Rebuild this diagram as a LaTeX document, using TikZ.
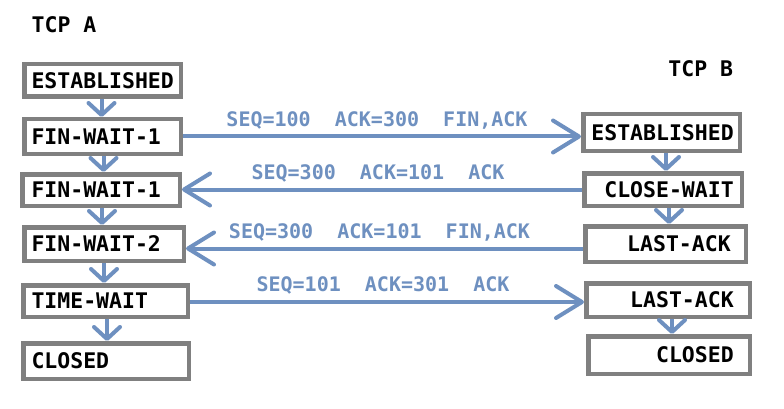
\documentclass[tikz,border=0pt]{standalone}
\usepackage{fontspec}
\newfontfamily\dvm{DejaVu Sans Mono}
\usetikzlibrary{arrows.meta}
\definecolor{boxgray}{RGB}{128,128,128}
\definecolor{arrblue}{RGB}{110,144,192}
\tikzset{
  stbox/.style={draw=boxgray, line width=4.5pt, inner ysep=0pt,
    font=\dvm\bfseries\fontsize{21.5}{26}\selectfont,
    text height=15.7pt, text depth=0pt},
  lbox/.style={stbox, align=left},
  rbox/.style={stbox, align=right},
  title/.style={font=\dvm\bfseries\fontsize{21.5}{26}\selectfont,
    text height=15.7pt, text depth=0pt, inner sep=0pt, anchor=west},
  msg/.style={line width=4pt, draw=arrblue,
    -{Straight Barb[length=26pt,width=32pt,round]}},
  vstep/.style={line width=4pt, draw=arrblue,
    -{Straight Barb[length=12pt,width=26pt,round]}},
  msglabel/.style={font=\dvm\bfseries\fontsize{20}{24}\selectfont,
    text=arrblue, text height=14.6pt, text depth=0pt, inner sep=0pt}
}
\begin{document}
\begin{tikzpicture}[x=1pt,y=-1pt]
\fill[white] (0,0) rectangle (784,409);
\useasboundingbox (0,0) rectangle (784,409);

\node[title] (ta) at (31.5,24.5) {TCP A};
\node[title] (tb) at (668.2,68.5) {TCP B};

% left column
\node[lbox, minimum height=32.5pt, inner xsep=7.25pt, text width=142pt] (eA) at (102.5,80.5) {ESTABLISHED};
\node[lbox, minimum height=34.5pt, inner xsep=7.25pt, text width=142pt] (f1) at (102.5,136.5) {FIN-WAIT-1};
\node[lbox, minimum height=31.5pt, inner xsep=9.25pt, text width=139pt] (f1b) at (101,190) {FIN-WAIT-1};
\node[lbox, minimum height=33.5pt, inner xsep=7.25pt, text width=145pt] (f2) at (104,244) {FIN-WAIT-2};
\node[lbox, minimum height=31.5pt, inner xsep=8.25pt, text width=148pt] (tw) at (105.5,301) {TIME-WAIT};
\node[lbox, minimum height=35.5pt, inner xsep=8.25pt, text width=149pt] (clA) at (106,361) {CLOSED};

% right column
\node[rbox, minimum height=36.5pt, inner xsep=6pt, text width=144.5pt] (eB) at (661.5,132.5) {ESTABLISHED};
\node[rbox, minimum height=32.5pt, inner xsep=8pt, text width=141.5pt] (cw) at (663,189.5) {CLOSE-WAIT};
\node[rbox, minimum height=35.5pt, inner xsep=15pt, text width=130.5pt] (la1) at (665.5,244) {LAST-ACK};
\node[rbox, minimum height=33.5pt, inner xsep=16pt, text width=131.5pt] (la2) at (668,300) {LAST-ACK};
\node[rbox, minimum height=37.5pt, inner xsep=16pt, text width=129.5pt] (clB) at (669,355) {CLOSED};

% vertical steps, left
\draw[vstep] ([xshift=-1pt]eA.south) -- ([xshift=-1pt]eA.south |- f1.north);
\draw[vstep] ([xshift=1pt]f1.south) -- ([xshift=1pt]f1.south |- f1b.north);
\draw[vstep] ([xshift=1pt]f1b.south) -- ([xshift=1pt]f1b.south |- f2.north);
\draw[vstep] (f2.south) -- (f2.south |- tw.north);
\draw[vstep] ([xshift=1.5pt]tw.south) -- ([xshift=1.5pt]tw.south |- clA.north);

% vertical steps, right
\draw[vstep] ([xshift=4.5pt]eB.south) -- ([xshift=4.5pt]eB.south |- cw.north);
\draw[vstep] ([xshift=6pt]cw.south) -- ([xshift=6pt]cw.south |- la1.north);
\draw[vstep] ([xshift=4pt]la2.south) -- ([xshift=4pt]la2.south |- clB.north);

% messages
\draw[msg] (f1.east) -- (f1.east -| eB.west)
  node[msglabel, midway, above=8.2pt, xshift=-5pt] (m1) {SEQ=100\ \ ACK=300\ \ FIN,ACK};
\draw[msg] (cw.west) -- (cw.west -| f1b.east)
  node[msglabel, midway, above=8.2pt, xshift=-4pt] (m2) {SEQ=300\ \ ACK=101\ \ ACK};
\draw[msg] ([yshift=-4.5pt]la1.west) -- ([yshift=-4.5pt]la1.west -| f2.east)
  node[msglabel, midway, above=8.2pt, xshift=-5pt] (m3) {SEQ=300\ \ ACK=101\ \ FIN,ACK};
\draw[msg] ([yshift=-1pt]tw.east) -- ([yshift=-1pt]tw.east -| la2.west)
  node[msglabel, midway, above=8.2pt, xshift=-4pt] (m4) {SEQ=101\ \ ACK=301\ \ ACK};
\end{tikzpicture}
\end{document}
